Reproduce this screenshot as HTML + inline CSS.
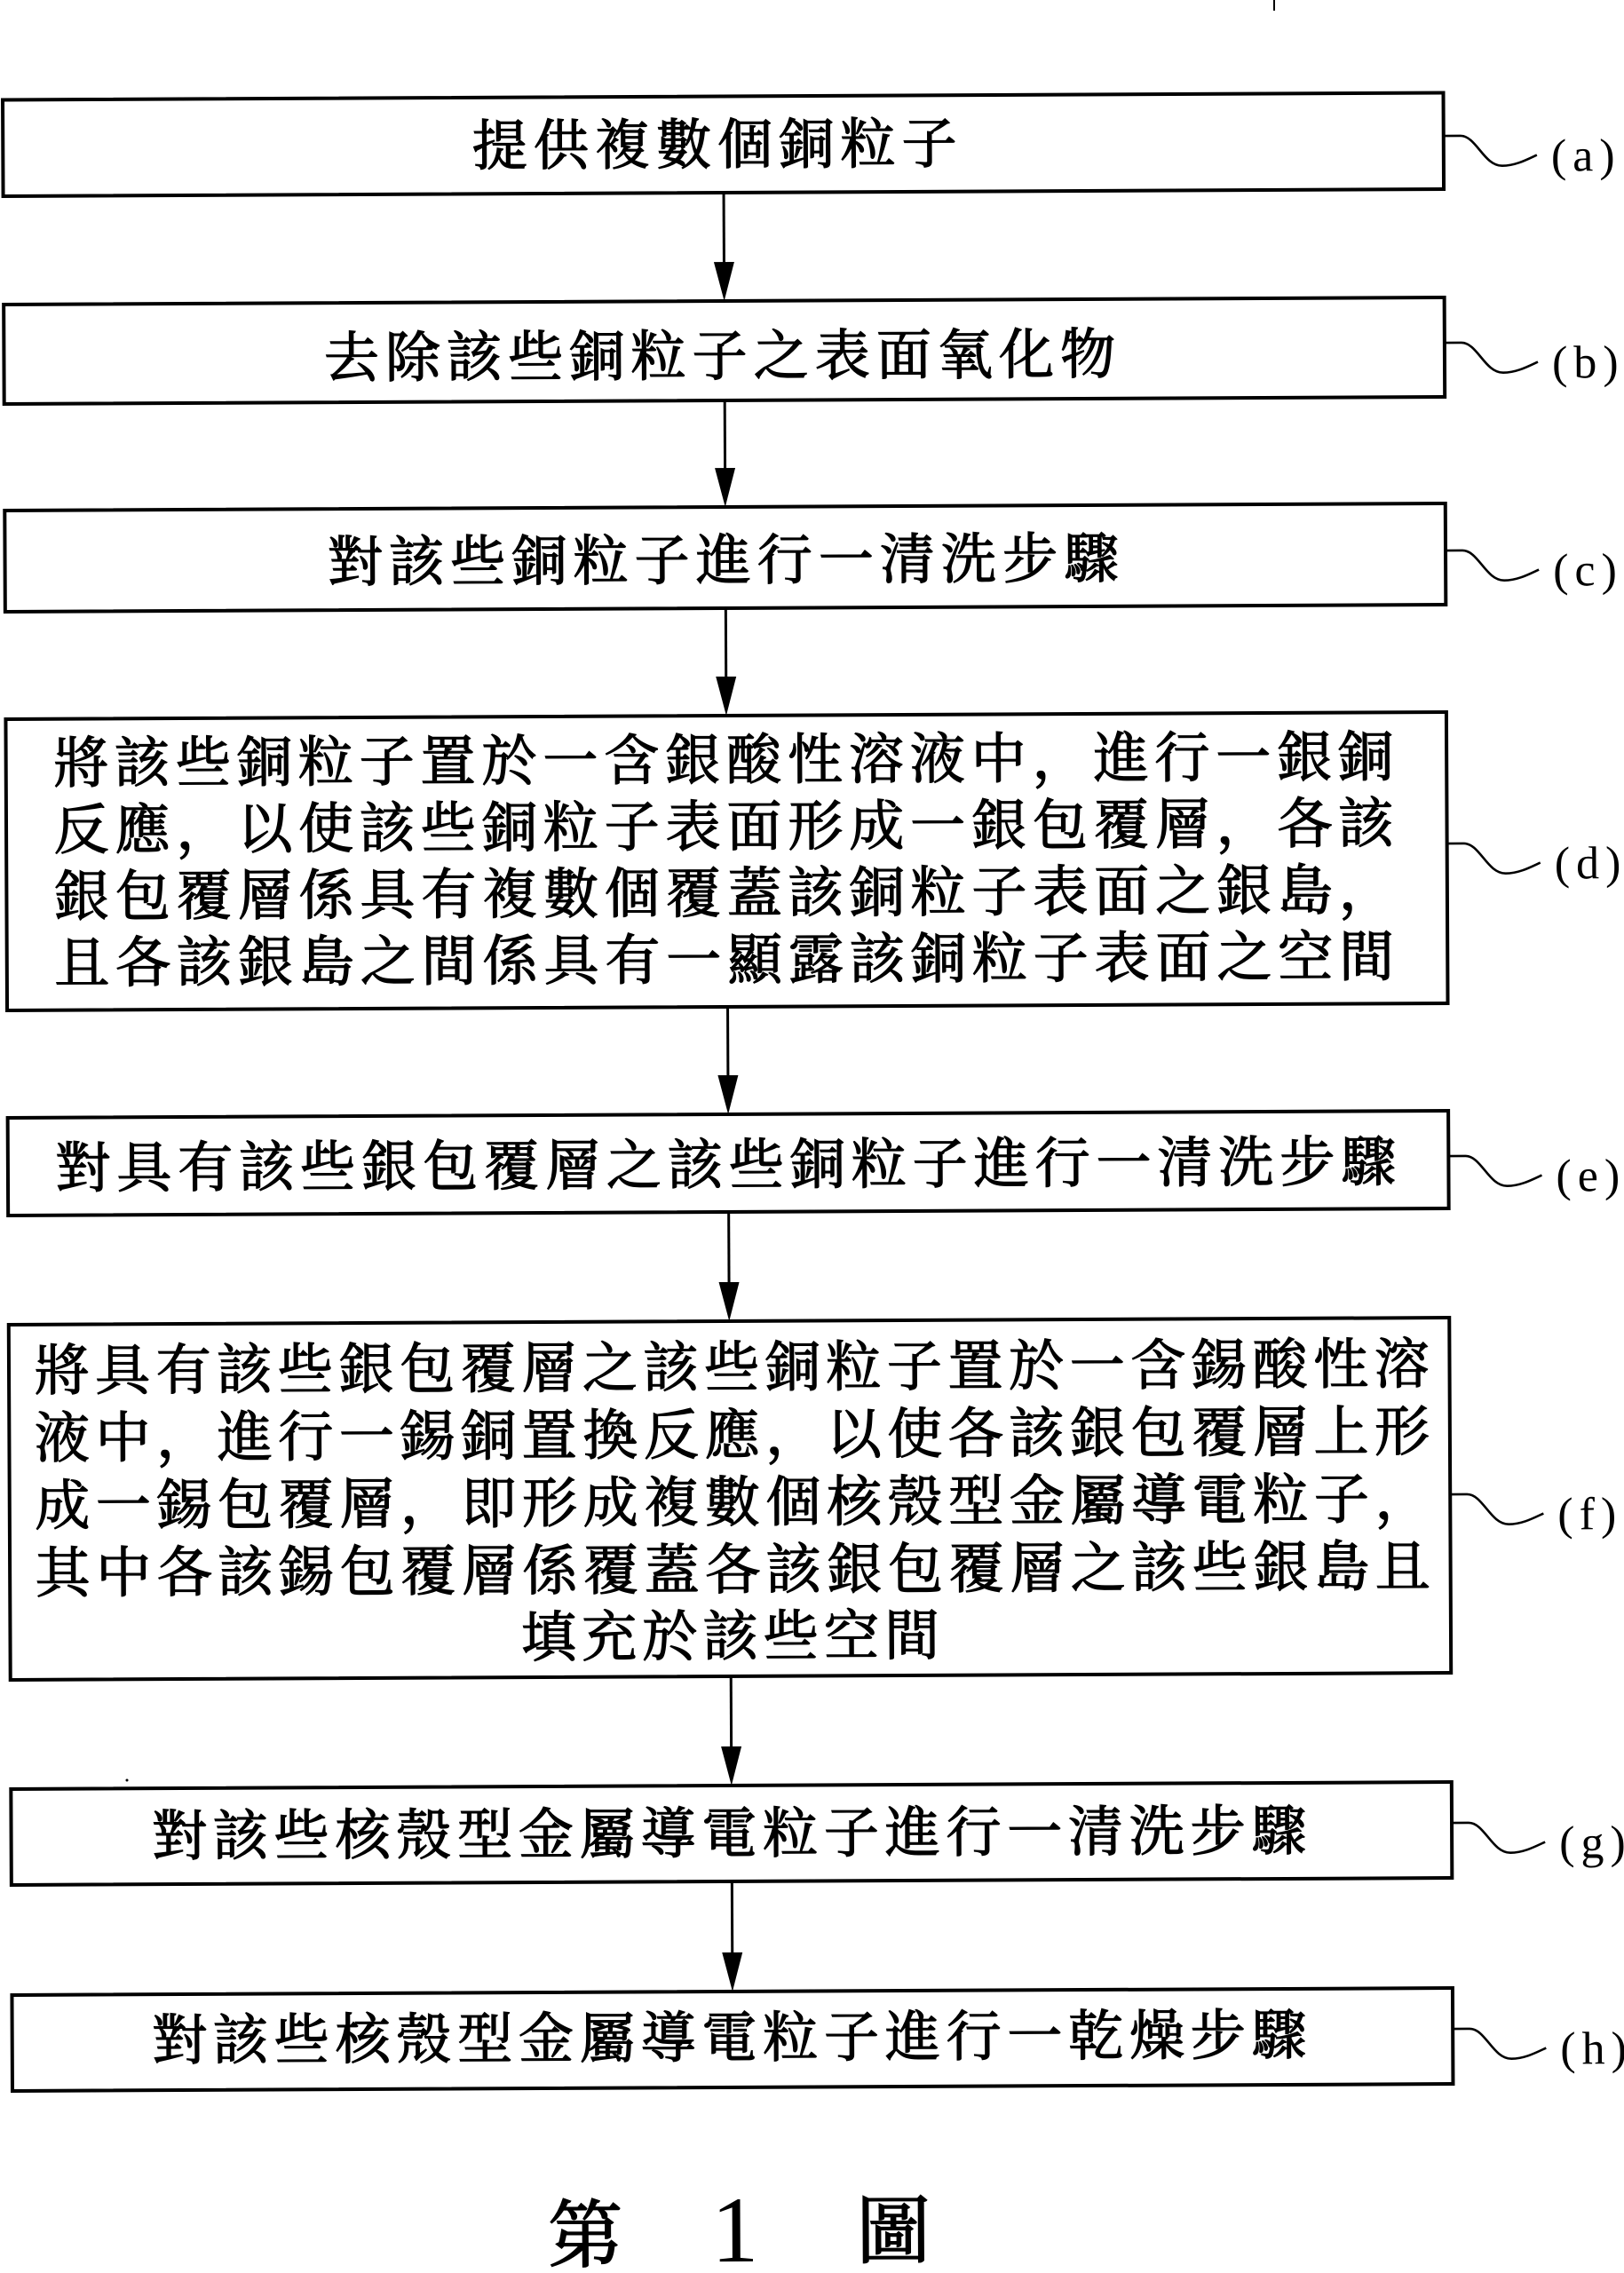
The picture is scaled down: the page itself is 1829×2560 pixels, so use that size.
<!DOCTYPE html>
<html>
<head>
<meta charset="utf-8">
<style>
  html,body{margin:0;padding:0;background:#fff;}
  body{width:1829px;height:2560px;overflow:hidden;}
  svg{display:block;}
  .t{font-family:"Liberation Serif","Noto Serif CJK SC","Noto Sans CJK TC",serif;font-size:62px;font-weight:normal;fill:#000;stroke:#000;stroke-width:1.3px;}
  .lbl{font-family:"Liberation Serif",serif;font-size:52px;fill:#000;letter-spacing:7px;}
  .cap{font-family:"Liberation Serif","Noto Serif CJK SC","Noto Sans CJK TC",serif;font-size:84px;font-weight:normal;fill:#000;stroke:#000;stroke-width:1.6px;}
  .one{font-family:"Liberation Serif",serif;font-size:106px;fill:#000;}
</style>
</head>
<body>
<svg width="1829" height="2560" viewBox="0 0 1829 2560" xmlns="http://www.w3.org/2000/svg">
<rect x="0" y="0" width="1829" height="2560" fill="#fff"/>
<g transform="rotate(-0.28 820 1230)">
  <!-- boxes -->
  <g fill="none" stroke="#000" stroke-width="4">
    <rect x="8.5" y="108.5" width="1622.5" height="108.5"/>
    <rect x="8.5" y="339" width="1622.5" height="112"/>
    <rect x="8.5" y="571" width="1622.5" height="114"/>
    <rect x="8.5" y="806" width="1622.5" height="328"/>
    <rect x="8.5" y="1255" width="1622.5" height="110"/>
    <rect x="8.5" y="1488" width="1622.5" height="400"/>
    <rect x="8.5" y="2011" width="1622.5" height="108"/>
    <rect x="8.5" y="2243" width="1622.5" height="108"/>
  </g>

  <!-- arrows -->
  <g stroke="#000" stroke-width="3">
    <line x1="820" y1="217" x2="820" y2="300"/>
    <line x1="820" y1="451" x2="820" y2="532"/>
    <line x1="820" y1="685" x2="820" y2="767"/>
    <line x1="820" y1="1134" x2="820" y2="1216"/>
    <line x1="820" y1="1365" x2="820" y2="1449"/>
    <line x1="820" y1="1888" x2="820" y2="1972"/>
    <line x1="820" y1="2119" x2="820" y2="2204"/>
  </g>
  <g fill="#000">
    <polygon points="808.5,295 831.5,295 820,339"/>
    <polygon points="808.5,527 831.5,527 820,571"/>
    <polygon points="808.5,762 831.5,762 820,806"/>
    <polygon points="808.5,1211 831.5,1211 820,1255"/>
    <polygon points="808.5,1444 831.5,1444 820,1488"/>
    <polygon points="808.5,1967 831.5,1967 820,2011"/>
    <polygon points="808.5,2199 831.5,2199 820,2243"/>
  </g>

  <!-- squiggle connectors -->
  <g fill="none" stroke="#000" stroke-width="2.6">
    <path d="M1631 157 L1650 157 C1668 157 1676 191 1697 191 C1712 191 1725 184 1736 179"/>
    <path d="M1631 390 L1650 390 C1668 390 1676 424 1697 424 C1712 424 1725 417 1736 412"/>
    <path d="M1631 624 L1650 624 C1668 624 1676 658 1697 658 C1712 658 1725 651 1736 646"/>
    <path d="M1631 954 L1650 954 C1668 954 1676 988 1697 988 C1712 988 1725 981 1736 976"/>
    <path d="M1631 1306 L1650 1306 C1668 1306 1676 1340 1697 1340 C1712 1340 1725 1333 1736 1328"/>
    <path d="M1631 1687 L1650 1687 C1668 1687 1676 1721 1697 1721 C1712 1721 1725 1714 1736 1709"/>
    <path d="M1631 2057 L1650 2057 C1668 2057 1676 2091 1697 2091 C1712 2091 1725 2084 1736 2079"/>
    <path d="M1631 2289 L1650 2289 C1668 2289 1676 2323 1697 2323 C1712 2323 1725 2316 1736 2311"/>
  </g>

  <!-- labels -->
  <text class="lbl" x="1752" y="197">(a)</text>
  <text class="lbl" x="1752" y="430">(b)</text>
  <text class="lbl" x="1752" y="664">(c)</text>
  <text class="lbl" x="1752" y="994">(d)</text>
  <text class="lbl" x="1752" y="1346">(e)</text>
  <text class="lbl" x="1752" y="1727">(f)</text>
  <text class="lbl" x="1752" y="2097">(g)</text>
  <text class="lbl" x="1752" y="2329">(h)</text>

  <!-- box texts -->
  <text class="t" x="537" y="184.5" style="letter-spacing:7.1px">提供複數個銅粒子</text>
  <text class="t" x="369" y="422.5" style="letter-spacing:7.1px">去除該些銅粒子之表面氧化物</text>
  <text class="t" x="372" y="652.5" style="letter-spacing:7.1px">對該些銅粒子進行一清洗步驟</text>

  <text class="t" x="62" y="877.5" style="letter-spacing:6.9px">將該些銅粒子置於一含銀酸性溶液中，進行一銀銅</text>
  <text class="t" x="62" y="952.5" style="letter-spacing:6.9px">反應，以使該些銅粒子表面形成一銀包覆層，各該</text>
  <text class="t" x="62" y="1027.5" style="letter-spacing:6.9px">銀包覆層係具有複數個覆蓋該銅粒子表面之銀島，</text>
  <text class="t" x="62" y="1102.5" style="letter-spacing:6.9px">且各該銀島之間係具有一顯露該銅粒子表面之空間</text>

  <text class="t" x="62" y="1333.5" style="letter-spacing:6.95px">對具有該些銀包覆層之該些銅粒子進行一清洗步驟</text>

  <text class="t" x="37" y="1561.5" style="letter-spacing:6.6px">將具有該些銀包覆層之該些銅粒子置於一含錫酸性溶</text>
  <text class="t" x="37" y="1637.5" style="letter-spacing:6.6px">液中，進行一錫銅置換反應，以使各該銀包覆層上形</text>
  <text class="t" x="37" y="1713.5" style="letter-spacing:6.6px">成一錫包覆層，即形成複數個核殼型金屬導電粒子，</text>
  <text class="t" x="37" y="1789.5" style="letter-spacing:6.6px">其中各該錫包覆層係覆蓋各該銀包覆層之該些銀島且</text>
  <text class="t" x="584" y="1864.5" style="letter-spacing:6.2px">填充於該些空間</text>

  <text class="t" x="167" y="2086.5" style="letter-spacing:6.8px">對該些核殼型金屬導電粒子進行一清洗步驟</text>
  <text class="t" x="166" y="2316.5" style="letter-spacing:6.8px">對該些核殼型金屬導電粒子進行一乾燥步驟</text>

  <!-- caption -->
  <text class="cap" x="611" y="2546">第</text>
  <text class="one" x="821.5" y="2547" text-anchor="middle">1</text>
  <text class="cap" x="958" y="2543">圖</text>
</g>
<!-- stray marks -->
<line x1="1435" y1="0" x2="1435" y2="12" stroke="#000" stroke-width="2"/>
<circle cx="143" cy="2005" r="1.5" fill="#000"/>
</svg>
</body>
</html>
